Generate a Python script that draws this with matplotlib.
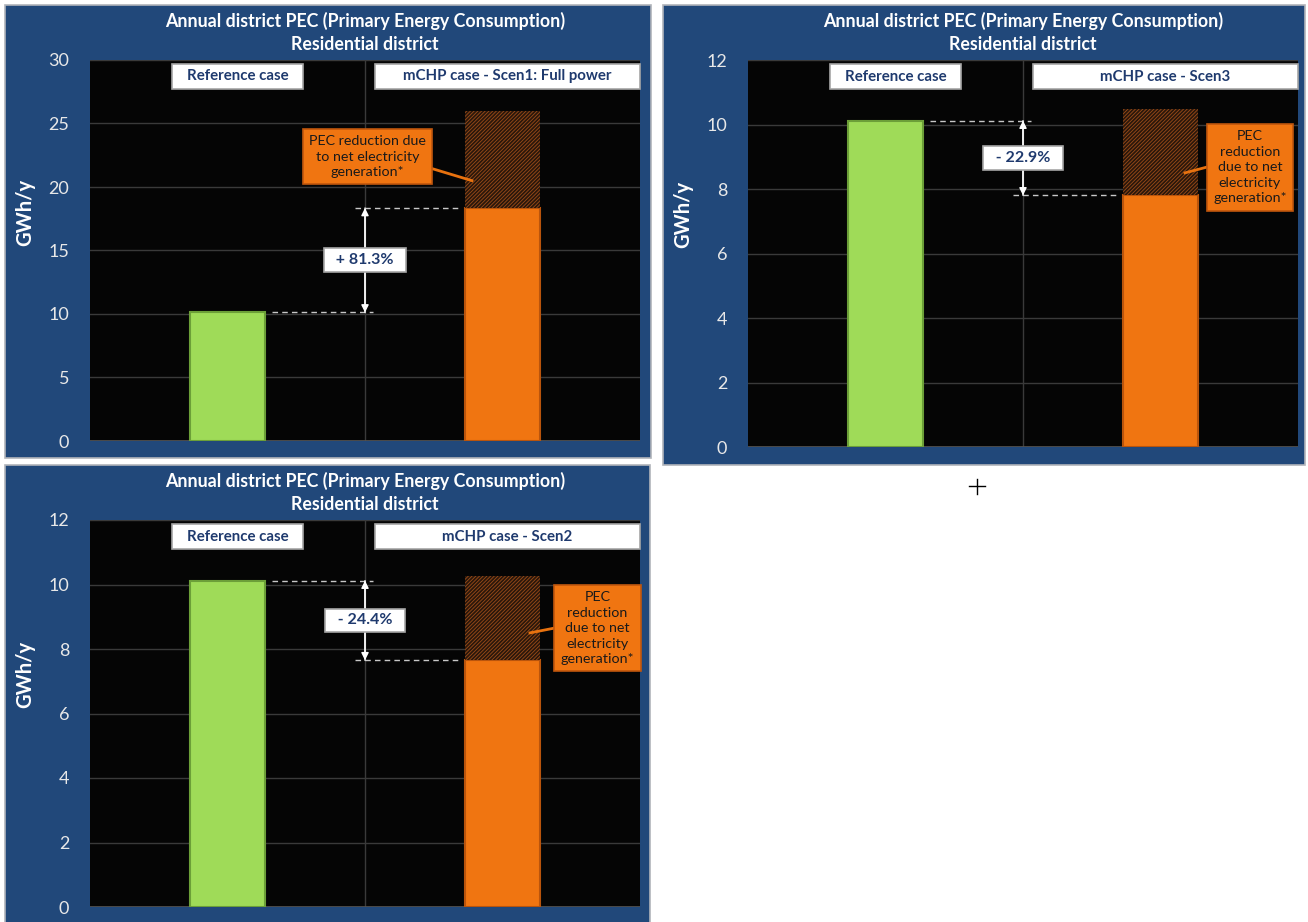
import numpy as np
import matplotlib.pyplot as plt
from matplotlib.patches import Rectangle
from matplotlib.lines import Line2D

plt.rcParams['font.family'] = ['Lato', 'DejaVu Sans']
plt.rcParams['hatch.linewidth'] = 0.6

# annual district PEC, residential district (GWh/y)
ref_pec = 10.12
scen_names = ['mCHP case - Scen1: Full power', 'mCHP case - Scen3', 'mCHP case - Scen2']
# net PEC change of each mCHP scenario against the reference case (%)
scen_change = [81.3, -22.9, -24.4]
# mCHP PEC before the credit for net electricity generation (GWh/y)
scen_gross = [26.0, 10.48, 10.25]
y_max = [30, 12, 12]
y_step = [5, 2, 2]
note_texts = ['PEC reduction due\nto net electricity\ngeneration*',
              'PEC\nreduction\ndue to net\nelectricity\ngeneration*',
              'PEC\nreduction\ndue to net\nelectricity\ngeneration*']

BLUE = '#21487a'
GREEN = '#9fdb58'
ORANGE = '#f07511'
NAVY = '#1f3a6e'

W, H = 1308, 922

def px_rect(x0, y0, x1, y1):
    # pixel box (top-left origin) -> figure fraction rect
    return [x0 / W, 1 - y1 / H, (x1 - x0) / W, (y1 - y0) / H]

# frame box, plot box, note centre, leader line (data coords)
layout = [
    dict(frame=px_rect(5, 5, 651, 458), plot=px_rect(90, 60, 640, 441),
         note=(0.509, 22.4), lead=([0.736, 0.889], [21.5, 20.5])),
    dict(frame=px_rect(663, 5, 1305, 465), plot=px_rect(748, 60, 1298, 447),
         note=(1.325, 8.68), lead=([1.169, 1.089], [8.68, 8.5])),
    dict(frame=px_rect(5, 465, 650, 925), plot=px_rect(90, 520, 640, 907),
         note=(1.345, 8.65), lead=([1.19, 1.1], [8.65, 8.5])),
]

fig = plt.figure(figsize=(W / 100, H / 100), dpi=100)
fig.patch.set_facecolor('white')

for i, lay in enumerate(layout):
    fr = lay['frame']
    fig.patches.append(Rectangle((fr[0], fr[1]), fr[2], fr[3], transform=fig.transFigure,
                                 facecolor=BLUE, edgecolor='#b0b4ba', lw=1.2, zorder=-1))
    ax = fig.add_axes(lay['plot'])
    ax.set_facecolor('#050505')
    for s in ax.spines.values():
        s.set_visible(False)

    net = ref_pec * (1 + scen_change[i] / 100)
    gross = scen_gross[i]

    ax.bar(0, ref_pec, width=0.273, color=GREEN, edgecolor='#6c9f38', lw=1.5, zorder=3)
    ax.bar(1, net, width=0.273, color=ORANGE, edgecolor='#b9540c', lw=1.5, zorder=3)
    ax.bar(1, gross - net, bottom=net, width=0.273, color='#2a170b',
           edgecolor='#9c4c18', hatch='/////////', lw=0, zorder=3)

    ax.set_xlim(-0.5, 1.5)
    ax.set_ylim(0, y_max[i])
    ax.set_xticks([])
    ax.set_yticks(np.arange(0, y_max[i] + y_step[i], y_step[i]))
    ax.yaxis.grid(True, color='#3a3a3a', lw=1)
    ax.axvline(0.5, color='#3a3a3a', lw=1, zorder=1)
    ax.axhline(0, color='#555555', lw=1.2, zorder=2)
    ax.set_axisbelow(True)
    ax.tick_params(axis='y', length=0, pad=15, labelsize=13, labelcolor='#e8e8e8')
    ax.set_ylabel('GWh/y', color='white', fontsize=14.5, fontweight='bold')
    ax.yaxis.set_label_coords(-0.1, 0.6)

    # chart title
    fig.text(lay['plot'][0] + lay['plot'][2] / 2, fr[1] + fr[3] - 27.5 / H,
             'Annual district PEC (Primary Energy Consumption)\nResidential district',
             ha='center', va='center', color='white', fontsize=12.8,
             fontweight='bold', linespacing=1.45)

    # case headers
    for x0, w, txt in [(0.149, 0.238, 'Reference case'), (0.518, 0.482, scen_names[i])]:
        ax.add_patch(Rectangle((x0, 0.925), w, 0.064, transform=ax.transAxes,
                               facecolor='white', edgecolor='#a6a6a6', lw=1.2,
                               zorder=6, clip_on=False))
        ax.text(x0 + w / 2, 0.957, txt, transform=ax.transAxes, ha='center',
                va='center', color=NAVY, fontsize=10.8, fontweight='bold', zorder=7)

    # change between the reference and mCHP net PEC
    dash = dict(ls=(0, (4, 3)), color='#c8c8c8', lw=1, zorder=4)
    ax.plot([0.16, 0.53], [ref_pec, ref_pec], **dash)
    ax.plot([0.465, 0.845], [net, net], **dash)
    for a, b in [(ref_pec, net), (net, ref_pec)]:
        ax.annotate('', xy=(0.5, b), xytext=(0.5, a),
                    arrowprops=dict(arrowstyle='-|>', color='white', lw=1,
                                    mutation_scale=11, shrinkA=0, shrinkB=0), zorder=5)
    sign = '+' if scen_change[i] > 0 else '-'
    ax.text(0.5, (ref_pec + net) / 2, f'  {sign} {abs(scen_change[i]):.1f}%  ',
            ha='center', va='center', color=NAVY, fontsize=11.5, fontweight='bold',
            zorder=7, bbox=dict(boxstyle='square,pad=0.3', fc='white', ec='#a6a6a6', lw=1.2))

    # callout for the hatched part
    ax.plot(*lay['lead'], color='#e8720f', lw=2, zorder=5)
    ax.text(*lay['note'], note_texts[i], ha='center', va='center', color='#1a1a1a',
            fontsize=10.3, linespacing=1.35, zorder=7,
            bbox=dict(boxstyle='square,pad=0.45', fc=ORANGE, ec='#c0560d', lw=1.2))

# cursor cross left on the page
fig.lines.append(Line2D([969 / W, 985 / W], [1 - 486 / H] * 2, transform=fig.transFigure,
                        color='black', lw=1))
fig.lines.append(Line2D([977 / W] * 2, [1 - 479 / H, 1 - 494 / H], transform=fig.transFigure,
                        color='black', lw=1))

fig.savefig('out.png', dpi=100)
